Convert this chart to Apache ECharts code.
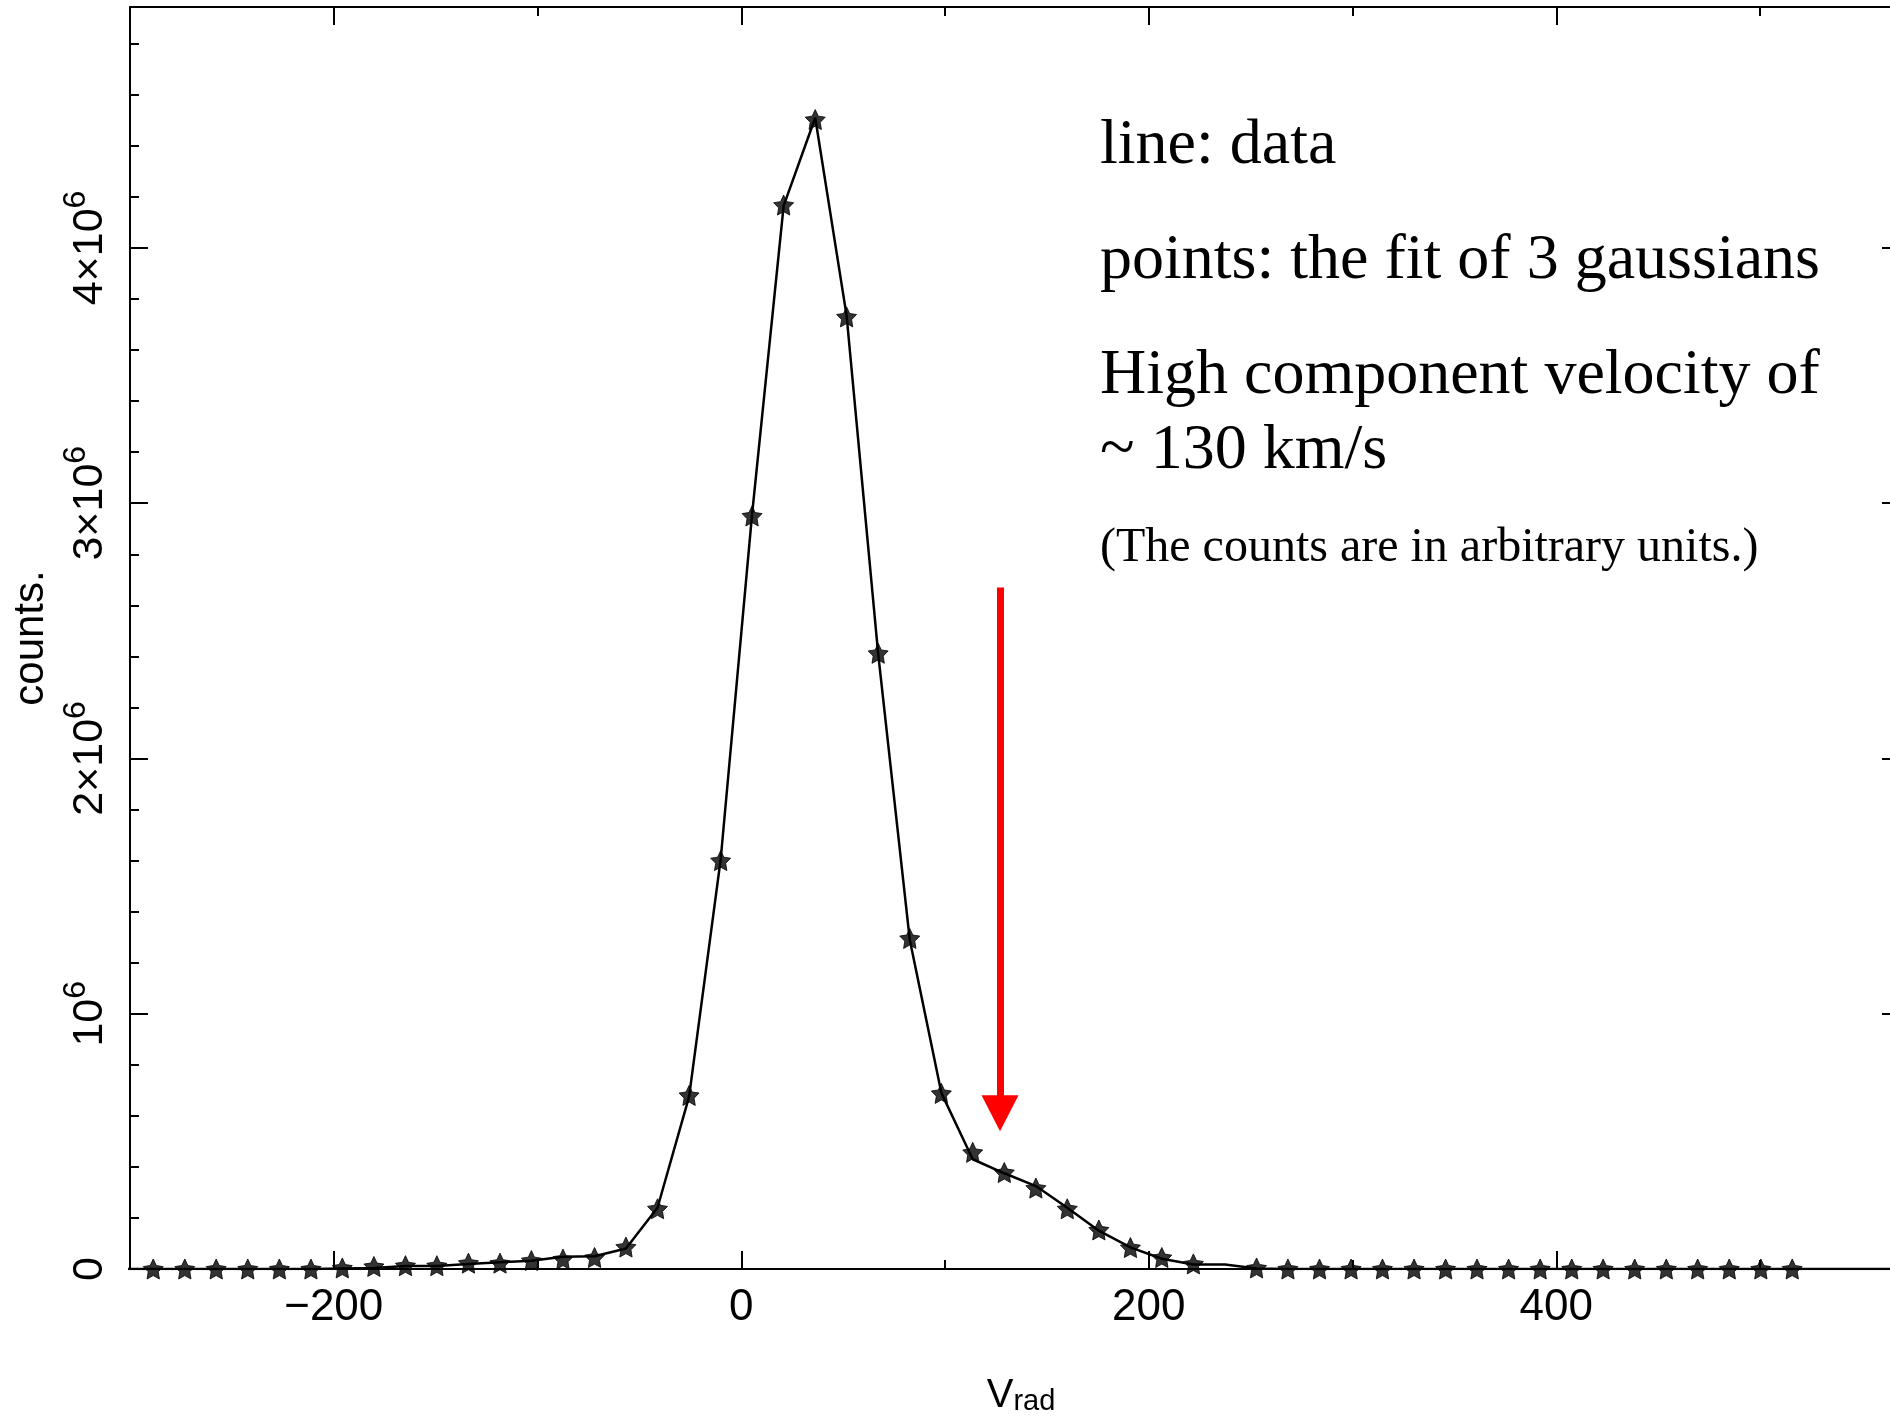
<!DOCTYPE html>
<html>
<head>
<meta charset="utf-8">
<script src="https://cdn.jsdelivr.net/npm/echarts@6/dist/echarts.min.js"></script>
<style>
  html, body { margin: 0; padding: 0; background: #fff; }
  #chart { width: 1890px; height: 1416px; }
</style>
</head>
<body>
<div id="chart"></div>
<script>
// channel velocities, km/s
const vrad = [
  -304.1, -288.6, -273.1, -257.7, -242.2, -226.7, -211.2, -195.8, -180.3, -164.8,
  -149.4, -133.9, -118.4, -103.0, -87.5, -72.0, -56.6, -41.1, -25.6, -10.1,
  5.3, 20.8, 36.3, 51.7, 67.2, 82.7, 98.2, 113.6, 129.1, 144.6,
  160.0, 175.5, 191.0, 206.4, 221.9, 237.4, 252.9, 268.3, 283.8, 299.3,
  314.7, 330.2, 345.7, 361.1, 376.6, 392.1, 407.6, 423.0, 438.5, 454.0,
  469.4, 484.9, 500.4, 515.8, 531.3, 546.8, 562.3, 577.7
];
// measured counts (the line), in 10^6
const dataCounts = [
  0, 0, 0, 0, 0, 0, 0, 0.002, 0.004, 0.012,
  0.012, 0.020, 0.026, 0.032, 0.048, 0.050, 0.080, 0.240, 0.675, 1.605,
  2.955, 4.165, 4.510, 3.735, 2.410, 1.290, 0.690, 0.430, 0.375, 0.325,
  0.240, 0.150, 0.085, 0.040, 0.018, 0.018, 0.002, 0, 0, 0,
  0, 0, 0, 0, 0, 0, 0, 0, 0, 0,
  0, 0, 0, 0, 0, 0, 0, 0
];
// fit of 3 gaussians (the stars), in 10^6; null = no star drawn
const fitCounts = [
  null, 0, 0, 0, 0, 0, 0, 0.004, 0.010, 0.013,
  0.013, 0.023, 0.023, 0.033, 0.039, 0.045, 0.086, 0.236, 0.680, 1.600,
  2.950, 4.168, 4.503, 3.730, 2.412, 1.295, 0.688, 0.457, 0.378, 0.317,
  0.236, 0.153, 0.084, 0.045, 0.020, null, 0.004, 0, 0, 0,
  0, 0, 0, 0, 0, 0, 0, 0, 0, 0,
  0, 0, 0, 0, null, null, null, null
];

const xTickValues = [-200, 0, 200, 400];
const xTickLabels = ['\u2212200', '0', '200', '400'];
const yTickValues = [0, 1, 2, 3, 4];
const yTickLabels = ['0', '10^6', '2\u00d710^6', '3\u00d710^6', '4\u00d710^6'];

const noteLines = [
  'line: data',
  'points: the fit of 3 gaussians',
  'High component velocity of',
  '~ 130 km/s',
  '(The counts are in arbitrary units.)'
];
const noteY = [146, 261, 376, 451, 548];
const noteSize = [64, 64, 64, 64, 48];

// red arrow: velocity, from / to (10^6)
const arrowVrad = 127;
const arrowFrom = 2.67;
const arrowTo = 0.61;

const X_MIN = -300, X_MAX = 568.7, Y_MAX = 4.944;
const SANS = 'Liberation Sans';
const INK = '#000';
const STAR = 'path://M50,0 L64.7,29.8 L97.6,34.5 L73.8,57.7 L79.4,90.5 L50,75 L20.6,90.5 L26.2,57.7 L2.4,34.5 L35.3,29.8 Z';

const tickStyle = { color: INK, width: 2 };

function minorX(pos) {
  return {
    type: 'value', position: pos, min: X_MIN, max: X_MAX, interval: 100,
    axisLine: { show: true, onZero: false, lineStyle: tickStyle },
    axisTick: { show: true, inside: true, length: 9, lineStyle: tickStyle },
    axisLabel: { show: false }, splitLine: { show: false }
  };
}
function majorX(pos, labels) {
  return {
    type: 'value', position: pos, min: X_MIN, max: X_MAX,
    axisLine: { show: false, onZero: false },
    axisTick: { show: true, inside: true, length: 18, customValues: xTickValues, lineStyle: tickStyle },
    axisLabel: {
      show: labels, customValues: xTickValues, margin: 17,
      color: INK, fontFamily: SANS, fontSize: 44,
      formatter: v => xTickLabels[xTickValues.indexOf(v)]
    },
    splitLine: { show: false }
  };
}
function minorY(pos) {
  return {
    type: 'value', position: pos, min: 0, max: Y_MAX, interval: 0.2,
    axisLine: { show: true, onZero: false, lineStyle: tickStyle },
    axisTick: { show: true, inside: true, length: 9, lineStyle: tickStyle },
    axisLabel: { show: false }, splitLine: { show: false }
  };
}
function majorY(pos, labels) {
  return {
    type: 'value', position: pos, min: 0, max: Y_MAX,
    axisLine: { show: false, onZero: false },
    axisTick: { show: true, inside: true, length: 18, customValues: yTickValues, lineStyle: tickStyle },
    axisLabel: {
      show: labels, customValues: yTickValues, rotate: 90, margin: 10,
      formatter: v => {
        const p = yTickLabels[yTickValues.indexOf(v)].split('^');
        return p.length > 1 ? '{m|' + p[0] + '}{s|' + p[1] + '}' : '{m|' + p[0] + '}';
      },
      rich: {
        m: { fontSize: 43, lineHeight: 60, fontFamily: SANS, color: INK },
        s: { fontSize: 32, lineHeight: 30, verticalAlign: 'top', fontFamily: SANS, color: INK }
      }
    },
    splitLine: { show: false }
  };
}

const xBottom = majorX('bottom', true);
xBottom.name = '{v|V}{r|rad}';
xBottom.nameLocation = 'middle';
xBottom.nameGap = 107;
xBottom.nameTextStyle = {
  rich: {
    v: { fontSize: 40, lineHeight: 40, padding: [0, 0, 0, 12], verticalAlign: 'top', fontFamily: SANS, color: INK },
    r: { fontSize: 29, lineHeight: 29, padding: [16, 0, 0, 0], verticalAlign: 'bottom', fontFamily: SANS, color: INK }
  }
};

const yLeft = majorY('left', true);
yLeft.name = 'counts.';
yLeft.nameLocation = 'middle';
yLeft.nameGap = 78;
yLeft.nameTextStyle = { fontSize: 42, fontFamily: SANS, color: INK };

const chart = echarts.init(document.getElementById('chart'));

chart.setOption({
  animation: false,
  backgroundColor: '#fff',
  // the right frame of the plot lies just past the picture edge
  grid: { left: 130, top: 7, width: 1770, height: 1262, containLabel: false, outerBoundsMode: 'none' },
  xAxis: [minorX('bottom'), xBottom, minorX('top'), majorX('top', false)],
  yAxis: [minorY('left'), yLeft, minorY('right'), majorY('right', false)],
  series: [
    {
      name: 'data', type: 'line', xAxisIndex: 0, yAxisIndex: 0,
      data: vrad.map((v, i) => [v, dataCounts[i]]),
      showSymbol: false, symbol: 'none',
      lineStyle: { color: INK, width: 2.5 },
      z: 2,
      markLine: {
        silent: true,
        symbol: ['none', 'triangle'],
        symbolSize: [37, 36],
        label: { show: false },
        lineStyle: { color: '#ff0000', width: 7, type: 'solid' },
        data: [[{ coord: [arrowVrad, arrowFrom] }, { coord: [arrowVrad, arrowTo] }]]
      }
    },
    {
      name: 'fit', type: 'scatter', xAxisIndex: 0, yAxisIndex: 0,
      data: vrad.map((v, i) => [v, fitCounts[i]]).filter(d => d[1] !== null),
      symbol: STAR, symbolSize: 20,
      itemStyle: { color: INK, borderColor: INK, borderWidth: 1 },
      z: 3
    }
  ],
  graphic: noteLines.map((t, i) => ({
    type: 'text', x: 1100, y: noteY[i],
    style: {
      text: t, fill: INK, fontSize: noteSize[i],
      fontFamily: 'Liberation Serif', verticalAlign: 'middle'
    }
  }))
});
</script>
</body>
</html>
